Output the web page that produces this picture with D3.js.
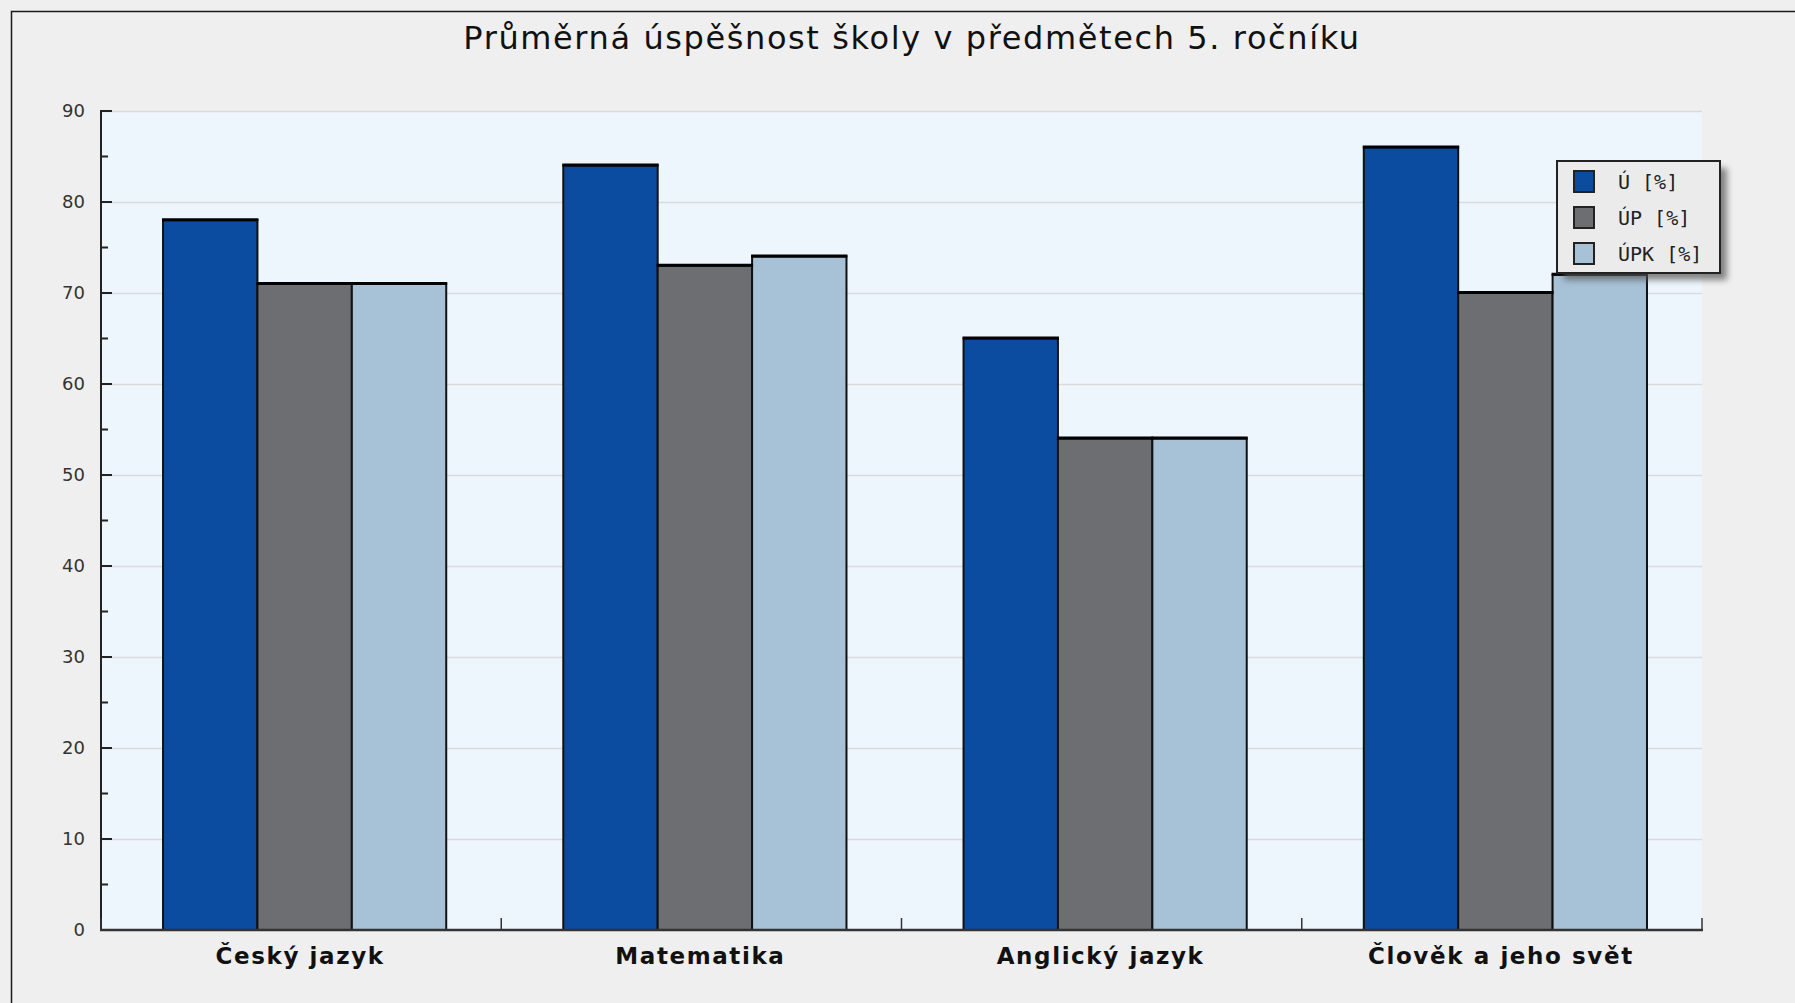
<!DOCTYPE html>
<html>
<head>
<meta charset="utf-8">
<script src="https://cdn.jsdelivr.net/npm/d3@7"></script>
<style>
  html, body { margin: 0; padding: 0; background: #efefef; overflow: hidden; }
  svg { display: block; }
</style>
</head>
<body>
<svg id="canvas" width="1795" height="1003"></svg>
<script>
// data
const categories = ['Český jazyk', 'Matematika', 'Anglický jazyk', 'Člověk a jeho svět'];
const seriesNames = ['Ú [%]', 'ÚP [%]', 'ÚPK [%]'];
const valuesU = [78, 84, 65, 86];
const valuesUP = [71, 73, 54, 70];
const valuesUPK = [71, 74, 54, 72];
const yTicks = [0, 10, 20, 30, 40, 50, 60, 70, 80, 90];
const yMinorTicks = [5, 15, 25, 35, 45, 55, 65, 75, 85];
const titleText = 'Průměrná úspěšnost školy v předmětech 5. ročníku';

const colors = ['#0c4ca0', '#6d6e72', '#a7c1d7'];

// margins & dimensions
const W = 1795, H = 1003;
const plot = { left: 101, right: 1702, top: 111, bottom: 930 };

const svg = d3.select('#canvas');

// outer frame
svg.append('rect')
  .attr('x', 0).attr('y', 0).attr('width', W).attr('height', H)
  .attr('fill', '#efefef');
svg.append('rect')
  .attr('x', 11.5).attr('y', 11.5).attr('width', W).attr('height', H)
  .attr('fill', 'none').attr('stroke', '#1a1a1a').attr('stroke-width', 1.5);

// title
svg.append('text')
  .attr('x', 912).attr('y', 49)
  .attr('text-anchor', 'middle')
  .attr('font-family', 'DejaVu Sans, Verdana, sans-serif')
  .attr('font-size', 32)
  .attr('letter-spacing', 1.6)
  .attr('fill', '#111')
  .text(titleText);

// scales
const x0 = d3.scaleBand().domain(categories).range([plot.left, plot.right]).padding(0);
const x1 = d3.scaleBand().domain(seriesNames).range([0, x0.bandwidth()])
  .paddingInner(0).paddingOuter(0.62).align(0.53);
const y = d3.scaleLinear().domain([0, 90]).range([plot.bottom, plot.top]);

// plot background
svg.append('rect')
  .attr('x', plot.left).attr('y', plot.top)
  .attr('width', plot.right - plot.left).attr('height', plot.bottom - plot.top)
  .attr('fill', '#eef6fd');

// gridlines
svg.append('g')
  .selectAll('line')
  .data(yTicks.filter(d => d > 0))
  .join('line')
    .attr('x1', plot.left).attr('x2', plot.right)
    .attr('y1', d => y(d) + 0.5).attr('y2', d => y(d) + 0.5)
    .attr('stroke', '#dadada').attr('stroke-width', 1.5);

// bars
const seriesValues = [valuesU, valuesUP, valuesUPK];
const rows = [];
categories.forEach((c, i) => {
  seriesNames.forEach((s, j) => rows.push({ cat: c, series: s, idx: j, value: seriesValues[j][i] }));
});

const bars = svg.append('g').attr('class', 'bars');
bars.selectAll('rect')
  .data(rows)
  .join('rect')
    .attr('x', d => x0(d.cat) + x1(d.series))
    .attr('y', d => y(d.value))
    .attr('width', x1.bandwidth())
    .attr('height', d => y(0) - y(d.value))
    .attr('fill', d => colors[d.idx])
    .attr('stroke', '#111')
    .attr('stroke-width', 2);

// thicker top edge of bars
bars.selectAll('line')
  .data(rows)
  .join('line')
    .attr('x1', d => x0(d.cat) + x1(d.series) - 1)
    .attr('x2', d => x0(d.cat) + x1(d.series) + x1.bandwidth() + 1)
    .attr('y1', d => y(d.value) - 0.5)
    .attr('y2', d => y(d.value) - 0.5)
    .attr('stroke', '#000')
    .attr('stroke-width', 3);

// y axis (ticks point into the plot)
const yAxisG = svg.append('g').attr('transform', `translate(${plot.left},0)`);
yAxisG.append('line')
  .attr('x1', 0).attr('x2', 0).attr('y1', plot.top - 1).attr('y2', plot.bottom)
  .attr('stroke', '#222').attr('stroke-width', 2);
yAxisG.selectAll('.major')
  .data(yTicks)
  .join('line')
    .attr('class', 'major')
    .attr('x1', 0).attr('x2', 11)
    .attr('y1', d => y(d)).attr('y2', d => y(d))
    .attr('stroke', '#222').attr('stroke-width', 2);
yAxisG.selectAll('.minor')
  .data(yMinorTicks)
  .join('line')
    .attr('class', 'minor')
    .attr('x1', 0).attr('x2', 7)
    .attr('y1', d => y(d)).attr('y2', d => y(d))
    .attr('stroke', '#222').attr('stroke-width', 2);
yAxisG.selectAll('text')
  .data(yTicks)
  .join('text')
    .attr('x', -16)
    .attr('y', d => y(d))
    .attr('dy', '0.35em')
    .attr('text-anchor', 'end')
    .attr('font-family', 'DejaVu Sans, Verdana, sans-serif')
    .attr('font-size', 18)
    .attr('fill', '#333')
    .text(d => d);

// x axis
const xAxisG = svg.append('g');
xAxisG.append('line')
  .attr('x1', plot.left - 1).attr('x2', plot.right + 1)
  .attr('y1', plot.bottom).attr('y2', plot.bottom)
  .attr('stroke', '#333').attr('stroke-width', 2.5);
const boundaries = categories.map(c => x0(c)).concat([plot.right]);
xAxisG.selectAll('.tick')
  .data(boundaries)
  .join('line')
    .attr('class', 'tick')
    .attr('x1', d => d).attr('x2', d => d)
    .attr('y1', plot.bottom).attr('y2', plot.bottom - 12)
    .attr('stroke', '#333').attr('stroke-width', 1.5);
xAxisG.selectAll('text')
  .data(categories)
  .join('text')
    .attr('x', d => x0(d) + x0.bandwidth() / 2 - 1)
    .attr('y', 964)
    .attr('text-anchor', 'middle')
    .attr('font-family', 'DejaVu Sans, Verdana, sans-serif')
    .attr('font-weight', 'bold')
    .attr('font-size', 23)
    .attr('letter-spacing', 1.6)
    .attr('fill', '#111')
    .text(d => d);

// legend
const legend = { x: 1557, y: 161, w: 163, h: 112 };
const defs = svg.append('defs');
const blur = defs.append('filter').attr('id', 'shadow')
  .attr('x', '-20%').attr('y', '-20%').attr('width', '150%').attr('height', '150%');
blur.append('feGaussianBlur').attr('stdDeviation', 3);

svg.append('rect')
  .attr('x', legend.x + 7).attr('y', legend.y + 7)
  .attr('width', legend.w).attr('height', legend.h)
  .attr('fill', '#555').attr('opacity', 0.7)
  .attr('filter', 'url(#shadow)');
svg.append('rect')
  .attr('x', legend.x).attr('y', legend.y)
  .attr('width', legend.w).attr('height', legend.h)
  .attr('fill', '#ebebeb').attr('stroke', '#222').attr('stroke-width', 2);

const items = svg.append('g').selectAll('g')
  .data(seriesNames)
  .join('g')
    .attr('transform', (d, i) => `translate(${legend.x + 17},${legend.y + 10 + i * 36})`);
items.append('rect')
  .attr('width', 20).attr('height', 21)
  .attr('fill', (d, i) => colors[i])
  .attr('stroke', '#222').attr('stroke-width', 2);
items.append('text')
  .attr('x', 44).attr('y', 18)
  .attr('font-family', 'DejaVu Sans Mono, monospace')
  .attr('font-size', 20)
  .attr('fill', '#222')
  .text(d => d);
</script>
</body>
</html>
